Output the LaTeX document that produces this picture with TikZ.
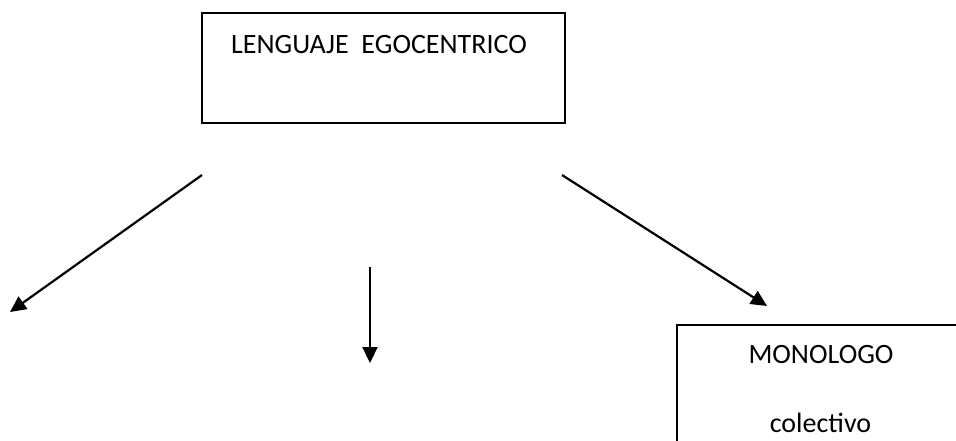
\documentclass[tikz,border=0pt]{standalone}
\usepackage{fontspec}
\setmainfont{Carlito}
\usetikzlibrary{arrows.meta}

\begin{document}
\begin{tikzpicture}[x=1pt,y=-1pt,
    caja/.style={draw, line width=1.8pt, inner sep=0pt},
    flecha/.style={line width=2.2pt, -{Triangle[length=16pt,width=15pt]}},
    texto/.style={font=\fontsize{28}{34}\selectfont, inner sep=0pt, anchor=base}]
  \useasboundingbox (0,0) rectangle (956,440);
  % caja de arriba
  \node[caja, minimum width=363pt, minimum height=110pt] (lenguaje) at (383.5,68) {};
  \node[texto] (titulo) at (379,53) {LENGUAJE\ \ EGOCENTRICO};
  % caja de la derecha
  \node[caja, minimum width=290pt, minimum height=150pt] (monologo) at (822,400) {};
  \node[texto] (mono) at (821,363) {MONOLOGO};
  \node[texto] (colectivo) at (820.5,432) {colectivo};
  % flechas
  \coordinate (salidaizq) at (202,175);
  \coordinate (puntaizq) at (10,312);
  \coordinate (salidacen) at (370,267);
  \coordinate (puntacen) at (370,363);
  \coordinate (salidader) at (562,175);
  \coordinate (puntader) at (767,306);
  \draw[flecha] (salidaizq) -- (puntaizq);
  \draw[flecha] (salidacen) -- (puntacen);
  \draw[flecha] (salidader) -- (puntader);
\end{tikzpicture}
\end{document}
